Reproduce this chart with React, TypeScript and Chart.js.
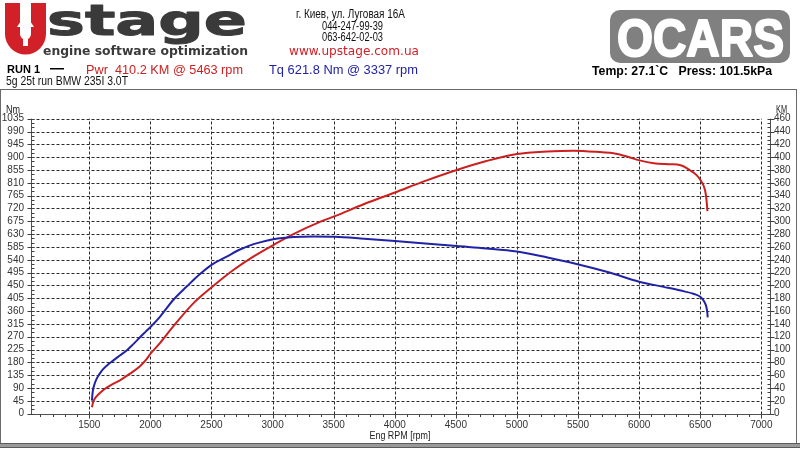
import React, { useEffect, useRef } from "react";
import { Chart, registerables } from "chart.js";

Chart.register(...registerables);

// ---- Data ----
const TQ_RPM = [1522, 1525, 1530, 1540, 1555, 1580, 1615, 1660, 1700, 1750, 1806, 1860, 1915, 1960, 2003, 2078, 2187, 2297, 2406, 2507, 2625, 2733, 2800, 2897, 3006, 3170, 3337, 3511, 3750, 4002, 4250, 4507, 4750, 5000, 5250, 5463, 5750, 6000, 6200, 6340, 6450, 6500, 6530, 6550, 6558, 6561];
const TQ_NM = [46, 64, 82, 100, 118, 137, 157, 175, 188, 204, 222, 244, 268, 287, 305, 340, 399, 446, 490, 524, 551, 576, 588, 601, 612, 620, 622, 621, 614, 606, 597, 588, 580, 569, 548, 528, 496, 463, 445, 432, 420, 410, 395, 375, 355, 338];

const PWR_RPM = [1522, 1530, 1547, 1580, 1615, 1680, 1751, 1830, 1915, 1960, 2003, 2078, 2187, 2351, 2507, 2679, 2842, 3006, 3170, 3388, 3511, 3750, 4002, 4250, 4507, 4750, 5000, 5250, 5463, 5700, 5790, 5900, 6003, 6120, 6250, 6340, 6413, 6470, 6503, 6540, 6552, 6559];
const PWR_KM = [10, 17, 24, 31, 37, 45, 52, 62, 74, 83, 94, 110, 136, 172, 198, 224, 245, 263, 280, 299, 308, 327, 345, 363, 380, 394, 405, 409, 410.2, 407.5, 406, 401, 395, 390.5, 389, 387.5, 380, 372, 364, 348, 332, 316];

const RPM_TICKS = [1500, 2000, 2500, 3000, 3500, 4000, 4500, 5000, 5500, 6000, 6500, 7000];
const NM_TICKS = [0, 45, 90, 135, 180, 225, 270, 315, 360, 405, 450, 495, 540, 585, 630, 675, 720, 765, 810, 855, 900, 945, 990, 1035];
const KM_TICKS = [0, 20, 40, 60, 80, 100, 120, 140, 160, 180, 200, 220, 240, 260, 280, 300, 320, 340, 360, 380, 400, 420, 440, 460];

const RPM_MIN = 1023;
const RPM_MAX = 7071;

const NARROW = "'Liberation Sans Narrow', 'Arial Narrow', 'Liberation Sans', Arial, sans-serif";
const SANS = "'Liberation Sans', Arial, sans-serif";
const WIDE = "'DejaVu Sans', Verdana, sans-serif";

const RED = "#cc2020";
const BLUE = "#2222a6";

function drawFit(ctx: CanvasRenderingContext2D, text: string, x: number, baseline: number, width: number, font: string, color: string, align: string = "left", stroke: number = 0) {
  ctx.save();
  ctx.font = font;
  ctx.fillStyle = color;
  ctx.textBaseline = "alphabetic";
  ctx.textAlign = "left";
  const w = ctx.measureText(text).width || 1;
  const left = align === "center" ? x - width / 2 : x;
  ctx.translate(left, baseline);
  ctx.scale(width / w, 1);
  ctx.fillText(text, 0, 0);
  if (stroke > 0) {
    ctx.strokeStyle = color;
    ctx.lineWidth = stroke;
    ctx.lineJoin = "round";
    ctx.strokeText(text, 0, 0);
  }
  ctx.restore();
}

function line(ctx: CanvasRenderingContext2D, x1: number, y1: number, x2: number, y2: number) {
  ctx.beginPath();
  ctx.moveTo(x1, y1);
  ctx.lineTo(x2, y2);
  ctx.stroke();
}

const headerPlugin = {
  id: "dynoHeader",
  beforeDraw(chart: any) {
    const ctx: CanvasRenderingContext2D = chart.ctx;
    ctx.save();
    ctx.fillStyle = "#ffffff";
    ctx.fillRect(0, 0, chart.width, chart.height);

    // Frame
    ctx.strokeStyle = "#6a6a6a";
    ctx.lineWidth = 1;
    ctx.strokeRect(0.5, 89.5, 796, 354);
    ctx.fillStyle = "#9a9a9a";
    ctx.fillRect(0, 443, 800, 5);
    ctx.fillStyle = "#5a5a5a";
    ctx.fillRect(0, 443, 800, 1);
    ctx.fillRect(0, 447, 800, 1);

    // Logo "U" with arrow
    ctx.fillStyle = "#d22028";
    ctx.beginPath();
    ctx.moveTo(5, 3);
    ctx.lineTo(5, 34);
    ctx.arc(25.5, 34, 20.5, Math.PI, 0, true);
    ctx.lineTo(46, 3);
    ctx.lineTo(31, 3);
    ctx.lineTo(31, 34);
    ctx.arc(25.5, 34, 5.5, 0, Math.PI, false);
    ctx.lineTo(20, 3);
    ctx.closePath();
    ctx.fill();
    ctx.fillStyle = "#ffffff";
    ctx.beginPath();
    ctx.moveTo(17, 27);
    ctx.lineTo(25.5, 14);
    ctx.lineTo(34, 27);
    ctx.closePath();
    ctx.fill();
    ctx.fillRect(23, 26, 5, 20);
    ctx.restore();

    drawFit(ctx, "stage", 47, 35, 200, `bold 42px ${WIDE}`, "#3a3a3a", "left", 1);
    drawFit(ctx, "engine software optimization", 43, 55, 205, `bold 12px ${WIDE}`, "#3a3a3a");

    // Address block
    drawFit(ctx, "г. Киев, ул. Луговая 16А", 296, 18, 109, `12px ${NARROW}`, "#111");
    drawFit(ctx, "044-247-99-39", 352.5, 29.5, 61, `12px ${NARROW}`, "#111", "center");
    drawFit(ctx, "063-642-02-03", 352.5, 41, 61, `12px ${NARROW}`, "#111", "center");
    drawFit(ctx, "www.upstage.com.ua", 289, 54.5, 130, `12px ${WIDE}`, "#d22028");

    // Run info
    drawFit(ctx, "RUN 1", 7, 72.5, 33, `bold 11px ${SANS}`, "#000");
    ctx.fillStyle = "#000";
    ctx.fillRect(50, 68, 14, 1.5);
    drawFit(ctx, "Pwr  410.2 KM @ 5463 rpm", 86, 74, 157, `13.5px ${SANS}`, RED);
    drawFit(ctx, "Tq 621.8 Nm @ 3337 rpm", 269, 74, 149, `13.5px ${SANS}`, BLUE);
    drawFit(ctx, "5g 25t run BMW 235I 3.0T", 6, 85, 122, `12px ${NARROW}`, "#111");

    // OCARS badge
    ctx.save();
    ctx.fillStyle = "#808080";
    ctx.beginPath();
    (ctx as any).roundRect(610, 10, 180, 53, 10);
    ctx.fill();
    ctx.restore();
    drawFit(ctx, "OCARS", 617, 56, 167, `bold 52px ${SANS}`, "#ffffff", "left", 2);
    drawFit(ctx, "Temp: 27.1`C   Press: 101.5kPa", 592, 75, 180, `bold 12px ${SANS}`, "#000");
  },
  afterDraw(chart: any) {
    const ctx: CanvasRenderingContext2D = chart.ctx;
    drawFit(ctx, "Nm", 6, 112.5, 14, `10px ${NARROW}`, "#222");
    drawFit(ctx, "KM", 776, 112.5, 11, `10px ${NARROW}`, "#222");
    drawFit(ctx, "Eng RPM [rpm]", 400, 439, 61, `11px ${NARROW}`, "#222", "center");
  },
};

const gridPlugin = {
  id: "dynoGrid",
  beforeDatasetsDraw(chart: any) {
    const ctx: CanvasRenderingContext2D = chart.ctx;
    const a = chart.chartArea;
    const x = chart.scales.x;
    const yN = chart.scales.yNm;
    const xEnd = x.getPixelForValue(RPM_TICKS[RPM_TICKS.length - 1]);
    const L = Math.round(a.left) + 0.5;
    const R = Math.round(a.right) + 0.5;
    const B = Math.round(a.bottom) + 0.5;
    const T = a.top;
    ctx.save();
    ctx.lineWidth = 1;
    ctx.strokeStyle = "#2a2a2a";
    ctx.setLineDash([3, 2]);
    NM_TICKS.forEach((v) => {
      if (v === 0) return;
      const py = Math.round(yN.getPixelForValue(v)) + 0.5;
      line(ctx, L, py, xEnd, py);
    });
    RPM_TICKS.forEach((v) => {
      const px = Math.round(x.getPixelForValue(v)) + 0.5;
      line(ctx, px, B, px, T);
    });
    ctx.setLineDash([]);

    // Axis lines
    ctx.strokeStyle = "#505050";
    line(ctx, L, T, L, B);
    line(ctx, R, T, R, B);
    line(ctx, L, B, R, B);

    // Y ticks (major + minor)
    ctx.strokeStyle = "#404040";
    const maxNm = NM_TICKS[NM_TICKS.length - 1];
    for (let v = 0; v <= maxNm; v += 15) {
      const py = Math.round(yN.getPixelForValue(v)) + 0.5;
      if (v % 45 === 0) {
        line(ctx, L - 4, py, L + 3, py);
        line(ctx, R - 3, py, R + 4, py);
      } else {
        line(ctx, L, py, L + 3, py);
        line(ctx, R - 3, py, R, py);
      }
    }
    // X ticks (major + minor)
    for (let r = 1100; r <= 7000; r += 100) {
      const px = Math.round(x.getPixelForValue(r)) + 0.5;
      if (r % 500 === 0) line(ctx, px, B, px, B + 4);
      else line(ctx, px, B, px, B + 2.5);
    }
    ctx.restore();
  },
};

export default function App() {
  const ref = useRef<HTMLCanvasElement | null>(null);

  useEffect(() => {
    if (!ref.current) return;
    const tq = TQ_RPM.map((r, i) => ({ x: r, y: TQ_NM[i] }));
    const pw = PWR_RPM.map((r, i) => ({ x: r, y: PWR_KM[i] }));
    const tickFont = { family: NARROW, size: 10 };
    const chart = new Chart(ref.current, {
      type: "line",
      data: {
        datasets: [
          {
            label: "Tq",
            data: tq,
            yAxisID: "yNm",
            borderColor: BLUE,
            borderWidth: 2,
            pointRadius: 0,
            cubicInterpolationMode: "monotone",
            fill: false,
          },
          {
            label: "Pwr",
            data: pw,
            yAxisID: "yKm",
            borderColor: RED,
            borderWidth: 2,
            pointRadius: 0,
            cubicInterpolationMode: "monotone",
            fill: false,
          },
        ],
      },
      options: {
        animation: false,
        responsive: false,
        maintainAspectRatio: false,
        devicePixelRatio: 1,
        parsing: true,
        layout: { padding: { top: 118.7, bottom: 0, left: 0, right: 0 } },
        plugins: { legend: { display: false }, tooltip: { enabled: false }, title: { display: false } },
        scales: {
          x: {
            type: "linear",
            min: RPM_MIN,
            max: RPM_MAX,
            afterBuildTicks: (s: any) => {
              s.ticks = RPM_TICKS.map((v) => ({ value: v }));
            },
            afterFit: (s: any) => {
              s.height = 36.3;
            },
            grid: { display: false, drawTicks: false },
            border: { display: false },
            ticks: {
              autoSkip: false,
              maxRotation: 0,
              padding: 6,
              color: "#333",
              font: tickFont,
              callback: (v: any) => String(v),
            },
          },
          yNm: {
            type: "linear",
            position: "left",
            min: 0,
            max: NM_TICKS[NM_TICKS.length - 1],
            afterBuildTicks: (s: any) => {
              s.ticks = NM_TICKS.map((v) => ({ value: v }));
            },
            afterFit: (s: any) => {
              s.width = 31;
            },
            grid: { display: false, drawTicks: false },
            border: { display: false },
            ticks: {
              autoSkip: false,
              padding: 7,
              color: "#333",
              font: tickFont,
              callback: (v: any) => String(v),
            },
          },
          yKm: {
            type: "linear",
            position: "right",
            min: 0,
            max: KM_TICKS[KM_TICKS.length - 1],
            afterBuildTicks: (s: any) => {
              s.ticks = KM_TICKS.map((v) => ({ value: v }));
            },
            afterFit: (s: any) => {
              s.width = 30;
            },
            grid: { display: false, drawTicks: false },
            border: { display: false },
            ticks: {
              autoSkip: false,
              padding: 4,
              color: "#333",
              font: tickFont,
              callback: (v: any) => String(v),
            },
          },
        },
      },
      plugins: [headerPlugin, gridPlugin],
    } as any);
    return () => chart.destroy();
  }, []);

  return (
    <div style={{ position: "absolute", left: 0, top: 0, width: 800, height: 450, background: "#fff", overflow: "hidden" }}>
      <canvas ref={ref} width={800} height={450} style={{ display: "block", width: 800, height: 450 }} />
    </div>
  );
}
